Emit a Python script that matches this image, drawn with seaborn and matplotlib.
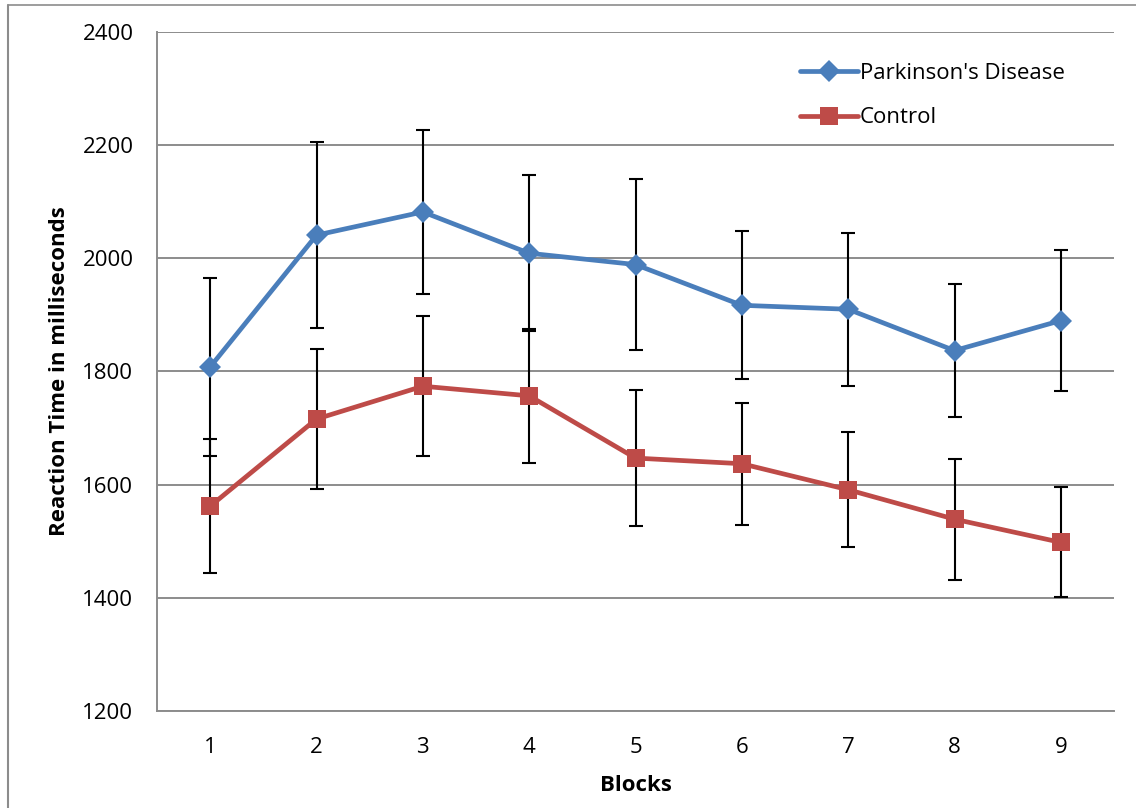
import pandas as pd
import matplotlib
matplotlib.use("Agg")
import matplotlib.pyplot as plt
import seaborn as sns

# Dados
blocos = [1, 2, 3, 4, 5, 6, 7, 8, 9]
parkinson = [1808, 2041, 2082, 2009, 1989, 1917, 1910, 1837, 1890]
parkinson_erro = [157, 164, 145, 138, 151, 131, 135, 117, 124]
controle = [1562, 1716, 1774, 1757, 1647, 1637, 1591, 1539, 1498]
controle_erro = [118, 124, 124, 118, 120, 108, 102, 107, 97]
grupos = ["Parkinson's Disease", "Control"]
yticks = [1200, 1400, 1600, 1800, 2000, 2200, 2400]

AZUL = "#4A7EBB"
VERMELHO = "#BE4B48"
GRADE = "#8C8C8C"

sns.set_theme(style="white")
plt.rcParams["font.family"] = ["Open Sans", "DejaVu Sans"]
plt.rcParams.update({"text.color": "black", "axes.labelcolor": "black"})

W, H = 1136, 808
fig = plt.figure(figsize=(W / 100, H / 100), dpi=100)
ax = fig.add_axes([157 / W, 1 - 711 / H, (1114 - 157) / W, (711 - 32) / H])

series = [
    (grupos[0], parkinson, parkinson_erro, AZUL, "D", 11),
    (grupos[1], controle, controle_erro, VERMELHO, "s", 13.5),
]

for nome, vals, errs, cor, marcador, ms in series:
    # barras de erro (atrás das linhas)
    ax.errorbar(blocos, vals, yerr=errs, fmt="none", ecolor="black",
                elinewidth=1.5, capsize=4.7, capthick=1.5, zorder=2)
    dados = pd.DataFrame({"Bloco": blocos, "RT": vals})
    sns.lineplot(data=dados, x="Bloco", y="RT", color=cor, marker=marcador,
                 markersize=ms, markeredgewidth=0, linewidth=3.4,
                 label=nome, ax=ax, zorder=3)

ax.set_xlim(0.5, 9.5)
ax.set_ylim(1200, 2400)
ax.set_xticks(blocos)
ax.set_yticks(yticks)
ax.tick_params(axis="x", labelsize=16, length=0, pad=19, colors="black")
ax.tick_params(axis="y", labelsize=16, length=0, pad=17, colors="black")
ax.yaxis.grid(True, color=GRADE, linewidth=1.4)
ax.set_axisbelow(True)
for lado in ["top", "right"]:
    ax.spines[lado].set_visible(False)
for lado in ["left", "bottom"]:
    ax.spines[lado].set_color(GRADE)
    ax.spines[lado].set_linewidth(1.4)

ax.set_xlabel("Blocks", fontsize=16, fontweight="bold", labelpad=12)
ax.set_ylabel("Reaction Time in milliseconds", fontsize=16, fontweight="bold", labelpad=9)

ax.legend(loc="upper left", bbox_to_anchor=(800 / W, 1 - 63 / H),
          bbox_transform=fig.transFigure, frameon=False, fontsize=16,
          handlelength=2.6, handletextpad=0.1, labelspacing=1.05,
          borderpad=0, borderaxespad=0, labelcolor="black")

# moldura da figura
fig.add_artist(plt.Line2D([8 / W, 8 / W], [0, 1 - 5 / H], color=GRADE, linewidth=1.5))
fig.add_artist(plt.Line2D([8 / W, 1], [1 - 5 / H, 1 - 5 / H], color=GRADE, linewidth=1.2))

fig.savefig("out.png", dpi=100)
plt.close(fig)
